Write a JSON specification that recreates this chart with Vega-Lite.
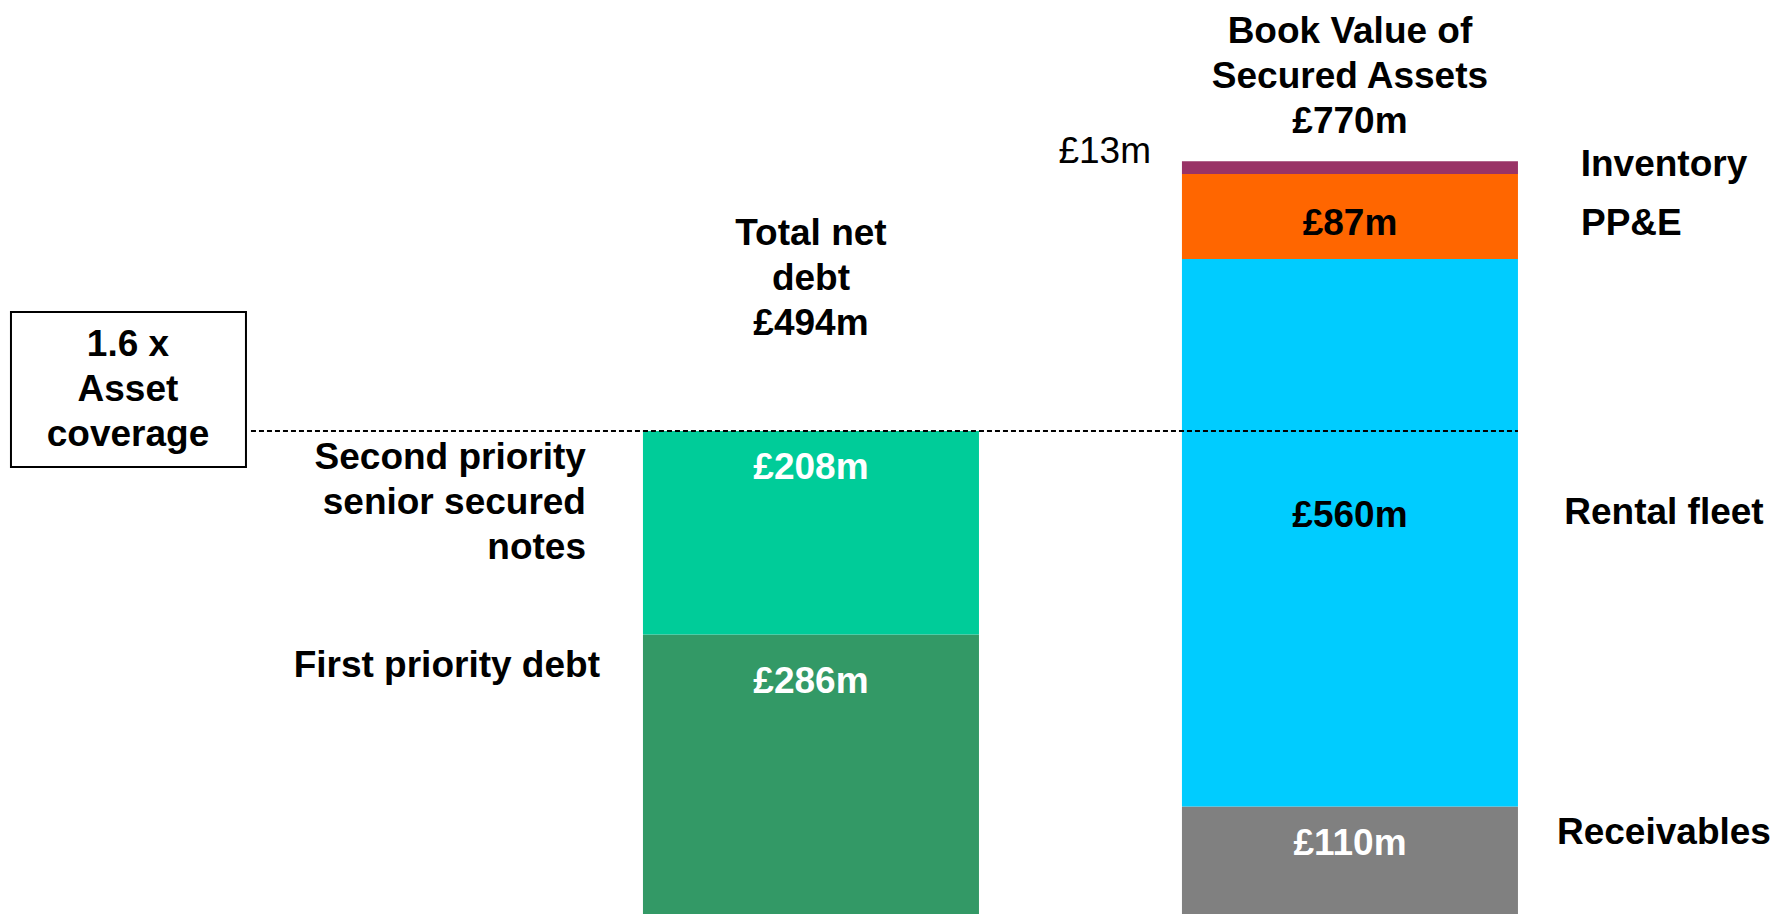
{
  "$schema": "https://vega.github.io/schema/vega-lite/v6.json",
  "width": 1775,
  "height": 914,
  "autosize": {"type": "fit", "contains": "padding"},
  "padding": 0,
  "background": "white",
  "view": {"stroke": null},
  "config": {
    "text": {"font": "Liberation Sans", "fontSize": 37, "fontWeight": "bold", "baseline": "middle", "lineHeight": 45, "lineBreak": "\n", "color": "black"}
  },
  "datasets": {
    "segments": [
      {"bar": "Total net debt", "segment": "First priority debt", "value": 286, "order": 1, "label": "£286m"},
      {"bar": "Total net debt", "segment": "Second priority senior secured notes", "value": 208, "order": 2, "label": "£208m"},
      {"bar": "Book Value of Secured Assets", "segment": "Receivables", "value": 110, "order": 1, "label": "£110m"},
      {"bar": "Book Value of Secured Assets", "segment": "Rental fleet", "value": 560, "order": 2, "label": "£560m"},
      {"bar": "Book Value of Secured Assets", "segment": "PP&E", "value": 87, "order": 3, "label": "£87m"},
      {"bar": "Book Value of Secured Assets", "segment": "Inventory", "value": 13, "order": 4, "label": "£13m"}
    ],
    "totals": [
      {"bar": "Total net debt", "total": 494, "title": "Total net\ndebt\n£494m", "coverage": "1.6 x\nAsset\ncoverage"},
      {"bar": "Book Value of Secured Assets", "total": 770, "title": "Book Value of\nSecured Assets\n£770m", "coverage": ""}
    ]
  },
  "layer": [
    {
      "data": {"name": "segments"},
      "mark": {"type": "bar"},
      "encoding": {
        "x": {"field": "bar", "type": "nominal", "axis": null,
              "scale": {"domain": ["Total net debt", "Book Value of Secured Assets"], "paddingInner": 0.3766, "paddingOuter": 0.8349, "align": 0.7144}},
        "y": {"field": "value", "type": "quantitative", "stack": "zero", "axis": null,
              "scale": {"domain": [0, 935], "nice": false, "zero": true}},
        "color": {"field": "segment", "type": "nominal", "legend": null,
                  "scale": {"domain": ["First priority debt", "Second priority senior secured notes", "Receivables", "Rental fleet", "PP&E", "Inventory"],
                            "range": ["#339966", "#00CC99", "#808080", "#00CCFF", "#FF6600", "#993366"]}},
        "order": {"field": "order", "type": "quantitative"}
      }
    },
    {
      "data": {"name": "totals"},
      "transform": [{"filter": "datum.bar === 'Total net debt'"}],
      "mark": {"type": "rule", "color": "black", "strokeWidth": 2, "strokeDash": [5, 3], "xOffset": -560, "x2Offset": 168},
      "encoding": {
        "x": {"field": "bar", "type": "nominal", "bandPosition": 0.5},
        "x2": {"datum": "Book Value of Secured Assets", "bandPosition": 0.5},
        "y": {"field": "total", "type": "quantitative"}
      }
    },
    {
      "data": {"name": "totals"},
      "transform": [{"filter": "datum.bar === 'Total net debt'"}],
      "mark": {"type": "rect", "fill": "white", "stroke": "black", "strokeWidth": 2, "xOffset": -800, "x2Offset": -565},
      "encoding": {
        "x": {"field": "bar", "type": "nominal", "bandPosition": 0.5},
        "x2": {"datum": "Total net debt", "bandPosition": 0.5},
        "y": {"datum": 615.8},
        "y2": {"datum": 457.3}
      }
    },
    {
      "data": {"name": "totals"},
      "transform": [{"filter": "datum.bar === 'Total net debt'"}],
      "mark": {"type": "text", "align": "center", "dx": -683},
      "encoding": {
        "x": {"field": "bar", "type": "nominal", "bandPosition": 0.5},
        "y": {"datum": 582},
        "text": {"field": "coverage"}
      }
    },
    {
      "data": {"name": "totals"},
      "transform": [{"filter": "datum.bar === 'Total net debt'"}],
      "mark": {"type": "text", "align": "center"},
      "encoding": {
        "x": {"field": "bar", "type": "nominal", "bandPosition": 0.5},
        "y": {"datum": 696},
        "text": {"field": "title"}
      }
    },
    {
      "data": {"name": "totals"},
      "transform": [{"filter": "datum.bar === 'Book Value of Secured Assets'"}],
      "mark": {"type": "text", "align": "center"},
      "encoding": {
        "x": {"field": "bar", "type": "nominal", "bandPosition": 0.5},
        "y": {"datum": 902},
        "text": {"field": "title"}
      }
    },
    {
      "data": {"name": "segments"},
      "transform": [{"filter": "datum.segment === 'Second priority senior secured notes'"}],
      "mark": {"type": "text", "align": "center", "color": "white"},
      "encoding": {
        "x": {"field": "bar", "type": "nominal", "bandPosition": 0.5},
        "y": {"datum": 456},
        "text": {"field": "label"}
      }
    },
    {
      "data": {"name": "segments"},
      "transform": [{"filter": "datum.segment === 'First priority debt'"}],
      "mark": {"type": "text", "align": "center", "color": "white"},
      "encoding": {
        "x": {"field": "bar", "type": "nominal", "bandPosition": 0.5},
        "y": {"datum": 237.3},
        "text": {"field": "label"}
      }
    },
    {
      "data": {"name": "segments"},
      "transform": [{"filter": "datum.segment === 'Rental fleet'"}],
      "mark": {"type": "text", "align": "center", "color": "black"},
      "encoding": {
        "x": {"field": "bar", "type": "nominal", "bandPosition": 0.5},
        "y": {"datum": 407.1},
        "text": {"field": "label"}
      }
    },
    {
      "data": {"name": "segments"},
      "transform": [{"filter": "datum.segment === 'PP&E'"}],
      "mark": {"type": "text", "align": "center", "color": "black"},
      "encoding": {
        "x": {"field": "bar", "type": "nominal", "bandPosition": 0.5},
        "y": {"datum": 705.9},
        "text": {"field": "label"}
      }
    },
    {
      "data": {"name": "segments"},
      "transform": [{"filter": "datum.segment === 'Receivables'"}],
      "mark": {"type": "text", "align": "center", "color": "white"},
      "encoding": {
        "x": {"field": "bar", "type": "nominal", "bandPosition": 0.5},
        "y": {"datum": 71.6},
        "text": {"field": "label"}
      }
    },
    {
      "data": {"name": "segments"},
      "transform": [{"filter": "datum.segment === 'Inventory'"}],
      "mark": {"type": "text", "align": "right", "fontWeight": "normal", "dx": -199},
      "encoding": {
        "x": {"field": "bar", "type": "nominal", "bandPosition": 0.5},
        "y": {"datum": 779.5},
        "text": {"field": "label"}
      }
    },
    {
      "data": {"name": "segments"},
      "transform": [{"filter": "datum.segment === 'Inventory'"}],
      "mark": {"type": "text", "align": "center", "dx": 314},
      "encoding": {
        "x": {"field": "bar", "type": "nominal", "bandPosition": 0.5},
        "y": {"datum": 766.2},
        "text": {"field": "segment"}
      }
    },
    {
      "data": {"name": "segments"},
      "transform": [{"filter": "datum.segment === 'PP&E'"}],
      "mark": {"type": "text", "align": "left", "dx": 231},
      "encoding": {
        "x": {"field": "bar", "type": "nominal", "bandPosition": 0.5},
        "y": {"datum": 705.9},
        "text": {"field": "segment"}
      }
    },
    {
      "data": {"name": "segments"},
      "transform": [{"filter": "datum.segment === 'Rental fleet'"}],
      "mark": {"type": "text", "align": "center", "dx": 314},
      "encoding": {
        "x": {"field": "bar", "type": "nominal", "bandPosition": 0.5},
        "y": {"datum": 410.2},
        "text": {"field": "segment"}
      }
    },
    {
      "data": {"name": "segments"},
      "transform": [{"filter": "datum.segment === 'Receivables'"}],
      "mark": {"type": "text", "align": "center", "dx": 314},
      "encoding": {
        "x": {"field": "bar", "type": "nominal", "bandPosition": 0.5},
        "y": {"datum": 82.9},
        "text": {"field": "segment"}
      }
    },
    {
      "data": {"name": "segments"},
      "transform": [{"filter": "datum.segment === 'Second priority senior secured notes'"}],
      "mark": {"type": "text", "align": "right", "dx": -225},
      "encoding": {
        "x": {"field": "bar", "type": "nominal", "bandPosition": 0.5},
        "y": {"datum": 466},
        "text": {"value": "Second priority\nsenior secured\nnotes"}
      }
    },
    {
      "data": {"name": "segments"},
      "transform": [{"filter": "datum.segment === 'First priority debt'"}],
      "mark": {"type": "text", "align": "right", "dx": -211},
      "encoding": {
        "x": {"field": "bar", "type": "nominal", "bandPosition": 0.5},
        "y": {"datum": 254},
        "text": {"field": "segment"}
      }
    }
  ]
}
